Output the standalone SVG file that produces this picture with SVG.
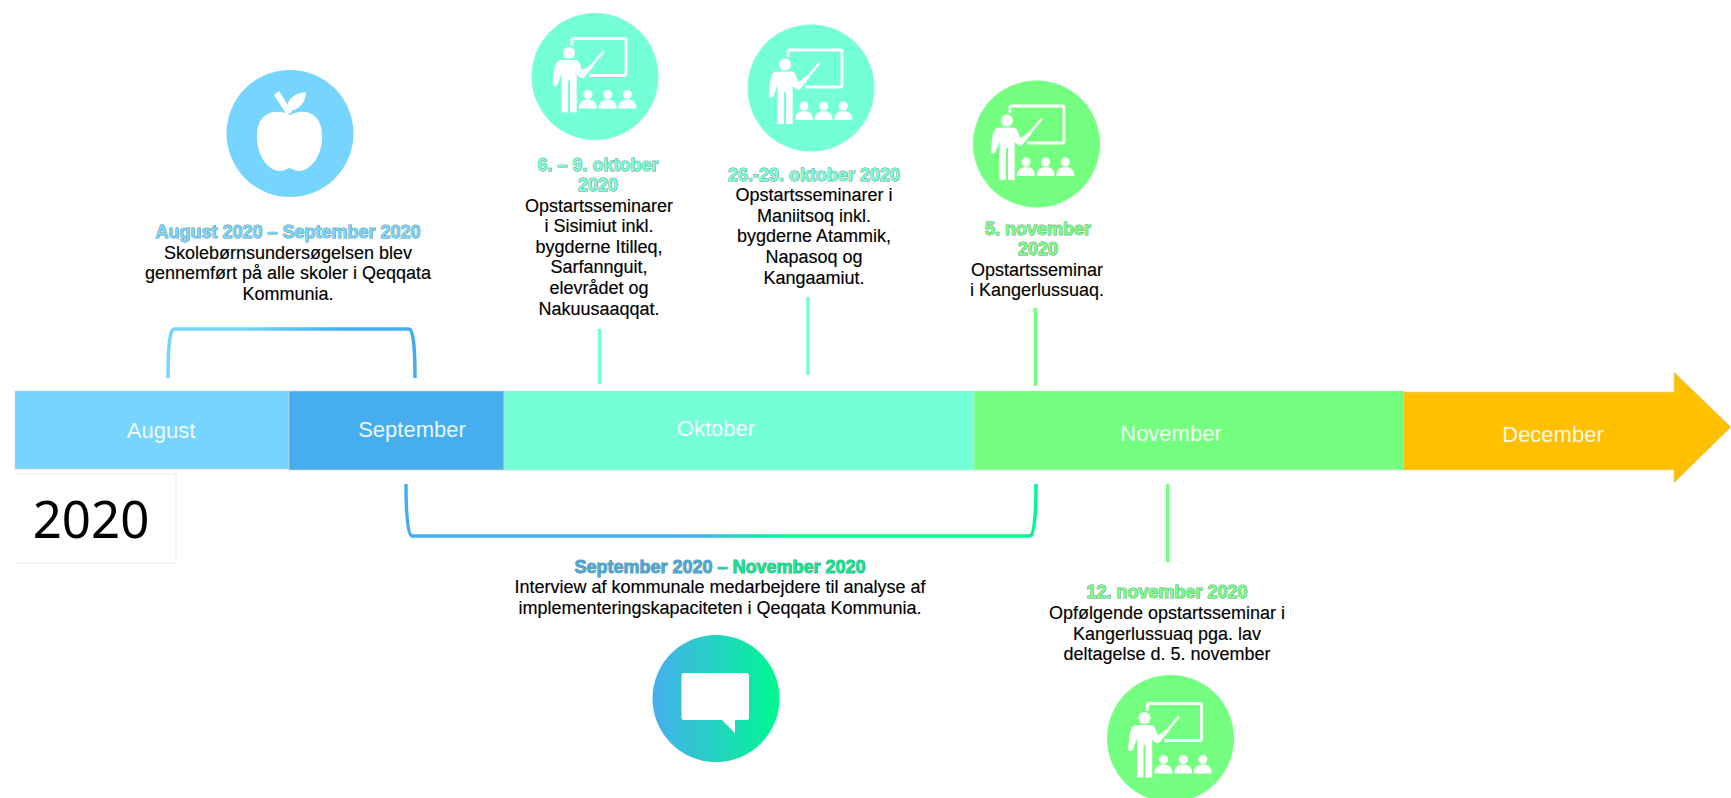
<svg xmlns="http://www.w3.org/2000/svg" width="1731" height="798" viewBox="0 0 1731 798">
<style>
text{font-family:"Liberation Sans",Arial,sans-serif;text-anchor:middle}
.m{font-size:22px;fill:#fff;fill-opacity:.93}
.b{font-size:18px;fill:#000;stroke:#000;stroke-width:.15px}
.h{font-size:18px;font-weight:bold;stroke:#4f7f78;stroke-opacity:.85;stroke-width:1px;paint-order:stroke}
.conn{fill:none;stroke-width:3.5}
.w{fill:#fff}
.seg{stroke:#d4d4d4;stroke-width:.6}
</style>
<defs>
<linearGradient id="g1" gradientUnits="userSpaceOnUse" x1="168" y1="0" x2="415" y2="0"><stop offset=".3" stop-color="#75D5FF"/><stop offset=".7" stop-color="#46AEEF"/></linearGradient>
<linearGradient id="g2" gradientUnits="userSpaceOnUse" x1="406" y1="0" x2="1036" y2="0"><stop offset=".45" stop-color="#46AEEF"/><stop offset=".6" stop-color="#00F890"/></linearGradient>
<linearGradient id="g3"><stop offset="0" stop-color="#46AEEF"/><stop offset="1" stop-color="#00F890"/></linearGradient>
<linearGradient id="g4" gradientUnits="userSpaceOnUse" x1="575" y1="0" x2="865" y2="0"><stop offset=".45" stop-color="#4BA8DE"/><stop offset=".55" stop-color="#0CE88E"/></linearGradient>
<g id="teach">
<path d="M-23-31V-36Q-23-38-21-38H29Q31-38 31-36V-3Q31-1 29-1H-6" fill="none" stroke="#fff" stroke-width="2.8"/>
<circle cx="-26" cy="-23.5" r="6" class="w"/>
<path class="w" d="M-35-16.500H-20Q-16-16.500-15-12L-12.500-6-3-13-1-11-10 0Q-12 3-15 1L-18.300-2V36H-25V4H-27V36H-33.500V-3L-37.500 8Q-40 11-42.500 8L-40.500-8Q-39.500-15-35-16.500Z"/>
<path d="M-10-3L8.500-25" stroke="#fff" stroke-width="2.4" fill="none"/>
<g class="w"><circle cx="-7" cy="18" r="4.500"/><circle cx="12.700" cy="18" r="4.500"/><circle cx="32.300" cy="18" r="4.500"/>
<path d="M-16 32Q-16 23-7 23T2 32Z"/><path d="M3.700 32Q3.700 23 12.700 23T21.700 32Z"/><path d="M23.300 32Q23.300 23 32.300 23T41.300 32Z"/></g>
</g>
</defs>

<g id="connectors">
<path class="conn" stroke="url(#g1)" d="M168 378Q168 329 174 329H409Q415 329 415 378"/>
<path class="conn" stroke="url(#g2)" d="M406 484Q406 535 412 536H1030Q1036 535 1036 484"/>
<path class="conn" stroke="#75FFD6" d="M599.500 329V384"/>
<path class="conn" stroke="#75FFD6" d="M808 297V375"/>
<path class="conn" stroke="#75FF80" d="M1035.500 308V386"/>
<path class="conn" stroke="#75FF80" d="M1167.700 484V562"/>
</g>

<g id="bar-august"><rect class="seg" x="15" y="391" width="274" height="78" fill="#75D5FF"/><text class="m" x="161" y="438">August</text></g>
<g id="bar-september"><rect class="seg" x="289" y="391" width="215" height="79" fill="#46AEEF"/><text class="m" x="412" y="437">September</text></g>
<g id="bar-oktober"><rect class="seg" x="504" y="391" width="470" height="79" fill="#75FFD6"/><text class="m" x="716" y="436">Oktober</text></g>
<g id="bar-november"><rect class="seg" x="974" y="391" width="430" height="79" fill="#75FF80"/><text class="m" x="1171" y="441">November</text></g>
<g id="bar-december"><path class="seg" d="M1403.500 392H1674V372L1731 427L1674 483V470H1403.500Z" fill="#FFC000"/><text class="m" x="1553" y="442">December</text></g>

<g id="year"><path d="M15 474H176V563H15" fill="none" stroke="#e8e8e8"/><text x="91" y="538" font-size="51" style="font-family:'Noto Sans',sans-serif">2020</text></g>

<g id="ev-aug"><circle cx="290" cy="133.500" r="63.500" fill="#75D5FF"/>
<path class="w" d="M290 115C280 109 262 110 258 127C254 146 262 165 275 170C283 173 287 168 289.500 168C292 168 296 173 304 170C317 165 325 146 321 127C317 110 300 109 290 115Z"/>
<path class="w" d="M274 95L279 91L292 112L287 115Z"/><path class="w" d="M287 108C287 98 296 93 306 92C306 101 300 110 289 111Z"/>
<text class="h" x="288" y="238" fill="#75D5FF">August 2020 – September 2020</text>
<text class="b" x="288" y="259">Skolebørnsundersøgelsen blev</text>
<text class="b" x="288" y="279">gennemført på alle skoler i Qeqqata</text>
<text class="b" x="288" y="300">Kommunia.</text></g>

<g id="ev-sisimiut"><circle cx="595" cy="76.500" r="63.500" fill="#75FFD6"/><use href="#teach" x="595" y="76.500"/>
<text class="h" x="598" y="171" fill="#75FFD6">6. – 9. oktober</text>
<text class="h" x="598" y="191" fill="#75FFD6">2020</text>
<text class="b" x="599" y="212">Opstartsseminarer</text>
<text class="b" x="599" y="232">i Sisimiut inkl.</text>
<text class="b" x="599" y="253">bygderne Itilleq,</text>
<text class="b" x="599" y="273">Sarfannguit,</text>
<text class="b" x="599" y="294">elevrådet og</text>
<text class="b" x="599" y="315">Nakuusaaqqat.</text></g>

<g id="ev-maniitsoq"><circle cx="811" cy="88" r="63.500" fill="#75FFD6"/><use href="#teach" x="811" y="88"/>
<text class="h" x="814" y="181" fill="#75FFD6">26.-29. oktober 2020</text>
<text class="b" x="814" y="201">Opstartsseminarer i</text>
<text class="b" x="814" y="222">Maniitsoq inkl.</text>
<text class="b" x="814" y="242">bygderne Atammik,</text>
<text class="b" x="814" y="263">Napasoq og</text>
<text class="b" x="814" y="284">Kangaamiut.</text></g>

<g id="ev-kanger"><circle cx="1036.500" cy="144" r="63.500" fill="#75FF80"/><use href="#teach" x="1033" y="144"/>
<text class="h" x="1038" y="235" fill="#75FF80">5. november</text>
<text class="h" x="1038" y="255" fill="#75FF80">2020</text>
<text class="b" x="1037" y="276">Opstartsseminar</text>
<text class="b" x="1037" y="296">i Kangerlussuaq.</text></g>

<g id="ev-interview"><text class="h" x="720" y="573" fill="url(#g4)">September 2020 – November 2020</text>
<text class="b" x="720" y="593">Interview af kommunale medarbejdere til analyse af</text>
<text class="b" x="720" y="614">implementeringskapaciteten i Qeqqata Kommunia.</text>
<circle cx="716" cy="698.500" r="63.500" fill="url(#g3)"/>
<path class="w" d="M684 673H746Q749 673 749 676V718Q749 720 746 720H735V733L722 720H684Q681.500 720 681.500 718V675Q681.500 673 684 673Z"/></g>

<g id="ev-nov12"><text class="h" x="1167" y="598" fill="#75FF80">12. november 2020</text>
<text class="b" x="1167" y="619">Opfølgende opstartsseminar i</text>
<text class="b" x="1167" y="640">Kangerlussuaq pga. lav</text>
<text class="b" x="1167" y="660">deltagelse d. 5. november</text>
<circle cx="1170.500" cy="738.500" r="63.500" fill="#75FF80"/><use href="#teach" x="1170.500" y="741.500"/></g>
</svg>
